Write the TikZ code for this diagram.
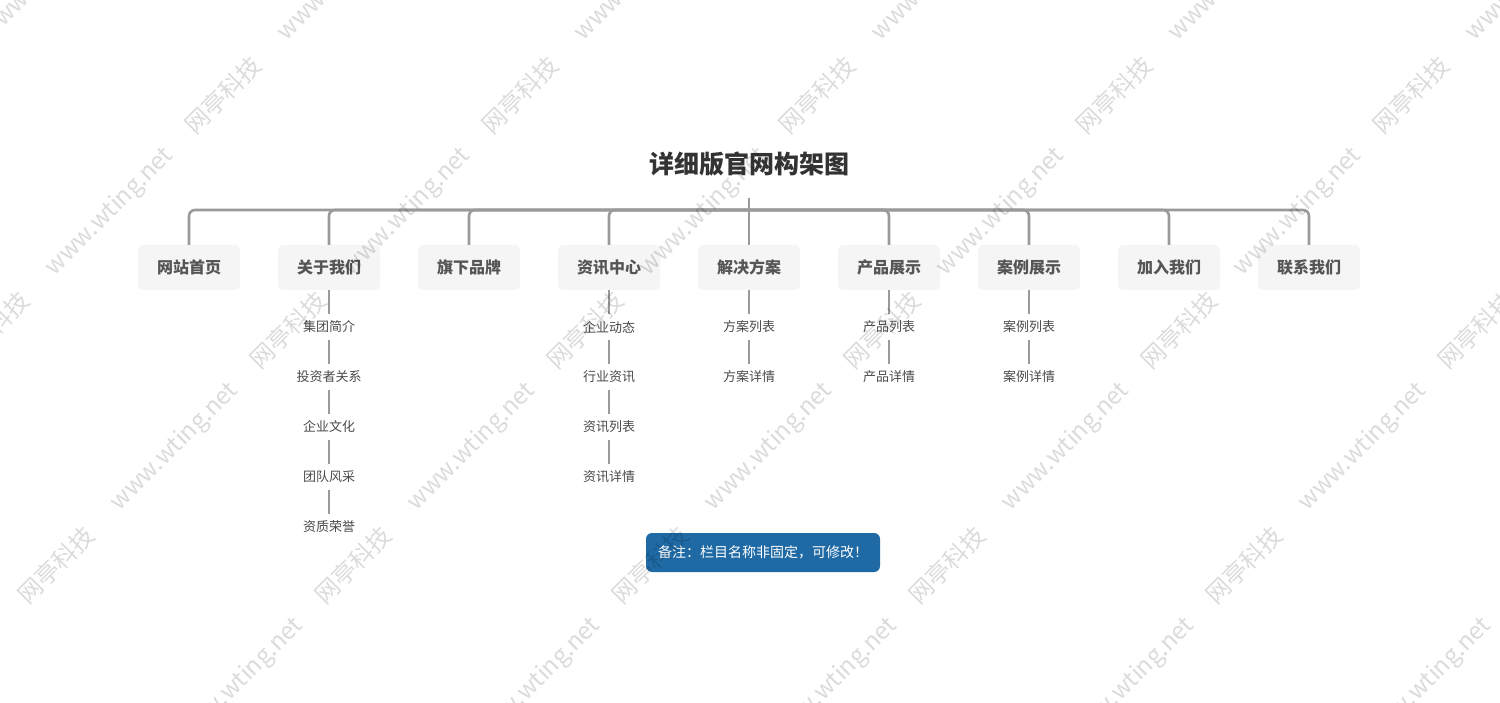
\documentclass[tikz,border=0pt]{standalone}
\usepackage{fontspec}
\setmainfont{Noto Sans CJK SC}
\definecolor{linegray}{HTML}{9A9A9A}
\definecolor{boxgray}{HTML}{F5F5F5}
\definecolor{textgray}{HTML}{555555}
\definecolor{leafgray}{HTML}{4A4A4A}
\definecolor{titlegray}{HTML}{333333}
\definecolor{noteblue}{HTML}{1F6AA5}
\begin{document}
\begin{tikzpicture}[x=1pt,y=-1pt,
  conn/.style={draw=linegray, line width=2.6pt, rounded corners=6pt},
  sub/.style={draw=linegray, line width=1.6pt},
  topbox/.style={fill=boxgray, rounded corners=5pt, minimum width=102pt, minimum height=45pt,
    inner sep=0pt, text=textgray, font=\bfseries\fontsize{16}{18}\selectfont},
  leaf/.style={minimum height=25pt, inner sep=0pt, text=leafgray, font=\fontsize{13}{15}\selectfont},
  titlestyle/.style={text=titlegray, font=\bfseries\fontsize{25}{28}\selectfont, inner sep=0pt},
  notebox/.style={fill=noteblue, rounded corners=6pt, minimum width=234pt, minimum height=39pt,
    inner sep=0pt, text=white, font=\fontsize{14}{16}\selectfont},
  wm/.style={rotate=45, text=black, opacity=0.14, inner sep=0pt, font=\fontsize{24}{26}\selectfont}]
\useasboundingbox[fill=white] (0,0) rectangle (1500,703);

% title
\node[titlestyle] (title) at (749,164) {详细版官网构架图};
\coordinate (root) at (749,198);
\coordinate (bus) at (749,210);

% level-1 nodes
\foreach \i/\x/\t in {1/189/网站首页, 2/329/关于我们, 3/469/旗下品牌, 4/609/资讯中心,
  5/749/解决方案, 6/889/产品展示, 7/1029/案例展示, 8/1169/加入我们, 9/1309/联系我们}
  \node[topbox] (n\i) at (\x,267.5) {\t};

% bus connectors
\draw[conn] (root) -- (n5.north);
\foreach \i in {1,2,3,4,6,7,8,9}
  \draw[conn] (bus) -| (n\i.north);

% children of 关于我们
\node[leaf] (c2a) at (329,327) {集团简介};
\node[leaf] (c2b) at (329,377) {投资者关系};
\node[leaf] (c2c) at (329,427) {企业文化};
\node[leaf] (c2d) at (329,477) {团队风采};
\node[leaf] (c2e) at (329,527) {资质荣誉};
\draw[sub] (n2.south) -- (c2a.north);
\draw[sub] (c2a.south) -- (c2b.north);
\draw[sub] (c2b.south) -- (c2c.north);
\draw[sub] (c2c.south) -- (c2d.north);
\draw[sub] (c2d.south) -- (c2e.north);

% children of 资讯中心
\node[leaf] (c4a) at (609,327) {企业动态};
\node[leaf] (c4b) at (609,377) {行业资讯};
\node[leaf] (c4c) at (609,427) {资讯列表};
\node[leaf] (c4d) at (609,477) {资讯详情};
\draw[sub] (n4.south) -- (c4a.north);
\draw[sub] (c4a.south) -- (c4b.north);
\draw[sub] (c4b.south) -- (c4c.north);
\draw[sub] (c4c.south) -- (c4d.north);

% children of 解决方案
\node[leaf] (c5a) at (749,327) {方案列表};
\node[leaf] (c5b) at (749,377) {方案详情};
\draw[sub] (n5.south) -- (c5a.north);
\draw[sub] (c5a.south) -- (c5b.north);

% children of 产品展示
\node[leaf] (c6a) at (889,327) {产品列表};
\node[leaf] (c6b) at (889,377) {产品详情};
\draw[sub] (n6.south) -- (c6a.north);
\draw[sub] (c6a.south) -- (c6b.north);

% children of 案例展示
\node[leaf] (c7a) at (1029,327) {案例列表};
\node[leaf] (c7b) at (1029,377) {案例详情};
\draw[sub] (n7.south) -- (c7a.north);
\draw[sub] (c7a.south) -- (c7b.north);

% note
\node[notebox] (note) at (763,552.5) {备注：栏目名称非固定，可修改！};

% watermark (only copies that reach into the picture)
\begin{scope}
\clip (0,0) rectangle (1500,703);
\foreach \r in {0,...,4} {
  \foreach \k in {0,...,6} {
    \pgfmathsetmacro\cx{223+65*(\r-1)+297*(\k-1)}
    \pgfmathsetmacro\cy{95+235*(\r-1)}
    \pgfmathsetmacro\bx{\cx-113}
    \pgfmathsetmacro\by{\cy+117}
    \pgfmathtruncatemacro\showA{((\cx>-30)&&(\cx<1530)&&(\cy>-30)&&(\cy<733))?1:0}
    \pgfmathtruncatemacro\showB{((\bx>-50)&&(\bx<1550)&&(\by>-50)&&(\by<753))?1:0}
    \ifnum\showA=1 \node[wm] (wmA\r x\k) at (\cx,\cy) {网亭科技};\fi
    \ifnum\showB=1 \node[wm] (wmB\r x\k) at (\bx,\by) {www.wting.net};\fi
  }
}
\end{scope}
\end{tikzpicture}
\end{document}
